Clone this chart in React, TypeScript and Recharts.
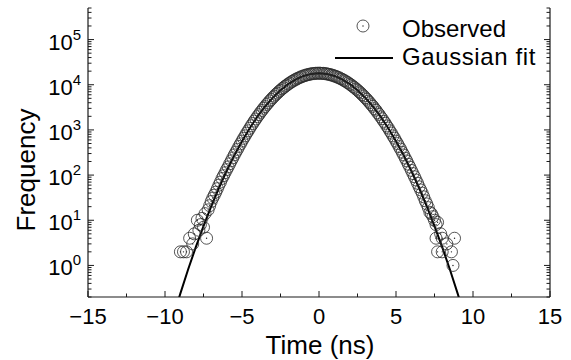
import React from 'react';
import { ComposedChart, Scatter, Line, XAxis, YAxis } from 'recharts';

// ---------- data ----------
const obsLeftTailTime = [-9.0, -8.8, -8.6, -8.4, -8.2, -8.1, -7.9, -7.8, -7.7, -7.6, -7.5, -7.4, -7.3, -7.2, -7.1, -7.0];
const obsLeftTailCount = [2, 2, 2, 4, 3, 5, 10, 6, 8, 11, 7, 14, 4, 17, 21, 26];

const obsCoreTime = [
  -6.9, -6.8, -6.7, -6.6, -6.5, -6.4, -6.3, -6.2, -6.1, -6.0,
  -5.9, -5.8, -5.7, -5.6, -5.5, -5.4, -5.3, -5.2, -5.1, -5.0,
  -4.9, -4.8, -4.7, -4.6, -4.5, -4.4, -4.3, -4.2, -4.1, -4.0,
  -3.9, -3.8, -3.7, -3.6, -3.5, -3.4, -3.3, -3.2, -3.1, -3.0,
  -2.9, -2.8, -2.7, -2.6, -2.5, -2.4, -2.3, -2.2, -2.1, -2.0,
  -1.9, -1.8, -1.7, -1.6, -1.5, -1.4, -1.3, -1.2, -1.1, -1.0,
  -0.9, -0.8, -0.7, -0.6, -0.5, -0.4, -0.3, -0.2, -0.1, 0.0,
  0.1, 0.2, 0.3, 0.4, 0.5, 0.6, 0.7, 0.8, 0.9, 1.0,
  1.1, 1.2, 1.3, 1.4, 1.5, 1.6, 1.7, 1.8, 1.9, 2.0,
  2.1, 2.2, 2.3, 2.4, 2.5, 2.6, 2.7, 2.8, 2.9, 3.0,
  3.1, 3.2, 3.3, 3.4, 3.5, 3.6, 3.7, 3.8, 3.9, 4.0,
  4.1, 4.2, 4.3, 4.4, 4.5, 4.6, 4.7, 4.8, 4.9, 5.0,
  5.1, 5.2, 5.3, 5.4, 5.5, 5.6, 5.7, 5.8, 5.9, 6.0,
  6.1, 6.2, 6.3, 6.4, 6.5, 6.6, 6.7, 6.8, 6.9,
];
const obsCoreCount = [
  31, 36, 42, 50, 60, 70, 84, 97, 113, 132,
  152, 178, 207, 240, 280, 322, 370, 430, 492, 566,
  650, 738, 846, 955, 1085, 1238, 1385, 1570, 1748, 1970,
  2180, 2450, 2690, 3010, 3280, 3650, 3960, 4390, 4730, 5200,
  5590, 6110, 6520, 7090, 7540, 8150, 8610, 9260, 9720, 10400,
  10870, 11550, 12010, 12700, 13120, 13790, 14170, 14820, 15150, 15740,
  16010, 16550, 16740, 17200, 17310, 17700, 17690, 18000, 17900, 18100,
  17950, 17830, 17870, 17520, 17480, 17030, 16910, 16380, 16170, 15590,
  15300, 14670, 14320, 13650, 13250, 12560, 12130, 11420, 10990, 10280,
  9830, 9150, 8700, 8060, 7620, 7010, 6600, 6030, 5650, 5140,
  4790, 4330, 4010, 3600, 3330, 2960, 2730, 2410, 2210, 1950,
  1770, 1550, 1405, 1225, 1100, 955, 852, 738, 655, 565,
  498, 428, 375, 320, 279, 237, 206, 174, 150, 127,
  108, 92, 78, 66, 55, 47, 40, 33, 27,
];

const obsRightTailTime = [7.0, 7.1, 7.2, 7.3, 7.4, 7.5, 7.6, 7.6, 7.7, 7.7, 7.9, 8.0, 8.0, 8.3, 8.6, 8.7, 8.8];
const obsRightTailCount = [23, 19, 15, 14, 12, 10, 8, 4, 9, 2, 5, 4, 2, 3, 2, 1, 4];

const fitTime = [
  -10, -9.5, -9, -8.5, -8, -7.5, -7, -6.5, -6, -5.5, -5, -4.5, -4, -3.5, -3, -2.5, -2, -1.5, -1, -0.5,
  0, 0.5, 1, 1.5, 2, 2.5, 3, 3.5, 4, 4.5, 5, 5.5, 6, 6.5, 7, 7.5, 8, 8.5, 9, 9.5, 10,
];
const fitCount = [
  0.0174, 0.067, 0.241, 0.812, 2.545, 7.44, 20.3, 51.8, 123, 272.9, 564, 1090, 1963, 3300, 5175, 7575, 10340, 13180, 15670, 17390,
  18000, 17390, 15670, 13180, 10340, 7575, 5175, 3300, 1963, 1090, 564, 272.9, 123, 51.8, 20.3, 7.44, 2.545, 0.812, 0.241, 0.067, 0.0174,
];

const xMajorTicks = [-15, -10, -5, 0, 5, 10, 15];
const xMinorTicks = [-12.5, -7.5, -2.5, 2.5, 7.5, 12.5];
const yMajorTicks = [1, 10, 100, 1000, 10000, 100000];
const yMinorMultipliers = [2, 3, 4, 5, 6, 7, 8, 9];
const yDomain: [number, number] = [0.2, 500000];
const xDomain: [number, number] = [-15, 15];

const seriesLabels = ['Observed', 'Gaussian fit'];
const xTitle = 'Time (ns)';
const yTitle = 'Frequency';

// ---------- derived tables ----------
const obsData = [
  ...obsLeftTailTime.map((x, i) => ({ x, y: obsLeftTailCount[i] })),
  ...obsCoreTime.map((x, i) => ({ x, y: obsCoreCount[i] })),
  ...obsRightTailTime.map((x, i) => ({ x, y: obsRightTailCount[i] })),
];
const fitData = fitTime.map((x, i) => ({ x, y: fitCount[i] }));

const xTicks = [...xMajorTicks, ...xMinorTicks].sort((a, b) => a - b);
const yMinorTicks: number[] = [];
[0.1, ...yMajorTicks].forEach((d) => {
  yMinorMultipliers.forEach((m) => {
    const v = +(d * m).toPrecision(6);
    if (v >= yDomain[0] && v <= yDomain[1]) yMinorTicks.push(v);
  });
});
const yTicks = [...yMajorTicks, ...yMinorTicks].sort((a, b) => a - b);

// ---------- styles ----------
const FONT = '"Liberation Sans", Arial, Helvetica, sans-serif';
const AX = '#1a1a1a';
const MAJOR = 6;
const MINOR = 3.5;

const isMajorY = (v: number) => Math.abs(Math.log10(v) - Math.round(Math.log10(v))) < 1e-6;
const fmtX = (v: number) => (v < 0 ? '\u2212' + Math.abs(v) : String(v));

const BottomTick = (p: any) => {
  const v = p.payload.value;
  const major = xMajorTicks.includes(v);
  return (
    <g>
      <line x1={p.x} x2={p.x} y1={p.y} y2={p.y - (major ? MAJOR : MINOR)} stroke={AX} strokeWidth={1} />
      {major && (
        <text x={p.x} y={p.y + 27} textAnchor="middle" fontSize={22} fontFamily={FONT} fill="#000">
          {fmtX(v)}
        </text>
      )}
    </g>
  );
};

const TopTick = (p: any) => {
  const v = p.payload.value;
  const major = xMajorTicks.includes(v);
  return <line x1={p.x} x2={p.x} y1={p.y} y2={p.y + (major ? MAJOR : MINOR)} stroke={AX} strokeWidth={1} />;
};

const LeftTick = (p: any) => {
  const v = p.payload.value;
  const major = isMajorY(v);
  return (
    <g>
      <line x1={p.x} x2={p.x + (major ? MAJOR : MINOR)} y1={p.y} y2={p.y} stroke={AX} strokeWidth={1} />
      {major && (
        <text x={p.x - 7} y={p.y + 10} textAnchor="end" fontFamily={FONT} fill="#000">
          <tspan fontSize={22}>10</tspan>
          <tspan fontSize={15} dy={-10}>
            {String(Math.round(Math.log10(v)))}
          </tspan>
        </text>
      )}
    </g>
  );
};

const RightTick = (p: any) => {
  const v = p.payload.value;
  const major = isMajorY(v);
  return <line x1={p.x} x2={p.x - (major ? MAJOR : MINOR)} y1={p.y} y2={p.y} stroke={AX} strokeWidth={1} />;
};

const RingDot = (p: any) => {
  if (p.cx == null || p.cy == null) return <g />;
  return (
    <g>
      <circle cx={p.cx} cy={p.cy} r={6} fill="none" stroke="#2a2a2a" strokeWidth={0.8} />
      <circle cx={p.cx} cy={p.cy} r={0.7} fill="#222" />
    </g>
  );
};

export default function App() {
  return (
    <div style={{ position: 'absolute', left: 0, top: 0, width: 571, height: 360, background: '#fff' }}>
      <ComposedChart width={571} height={360} margin={{ top: 8, right: 0, bottom: 0, left: 0 }}>
        <XAxis
          xAxisId="b"
          type="number"
          dataKey="x"
          domain={xDomain}
          allowDataOverflow
          ticks={xTicks}
          interval={0}
          tickSize={0}
          tickMargin={0}
          tickLine={false}
          height={63}
          axisLine={{ stroke: AX, strokeWidth: 1.2 }}
          tick={(p: any) => <BottomTick {...p} />}
        />
        <XAxis
          xAxisId="t"
          orientation="top"
          type="number"
          dataKey="x"
          domain={xDomain}
          allowDataOverflow
          ticks={xTicks}
          interval={0}
          tickSize={0}
          tickMargin={0}
          tickLine={false}
          height={0}
          axisLine={{ stroke: AX, strokeWidth: 1.2 }}
          tick={(p: any) => <TopTick {...p} />}
        />
        <YAxis
          yAxisId="l"
          type="number"
          dataKey="y"
          scale="log"
          domain={yDomain}
          allowDataOverflow
          ticks={yTicks}
          interval={0}
          tickSize={0}
          tickMargin={0}
          tickLine={false}
          width={88}
          axisLine={{ stroke: AX, strokeWidth: 1.2 }}
          tick={(p: any) => <LeftTick {...p} />}
        />
        <YAxis
          yAxisId="r"
          orientation="right"
          type="number"
          dataKey="y"
          scale="log"
          domain={yDomain}
          allowDataOverflow
          ticks={yTicks}
          interval={0}
          tickSize={0}
          tickMargin={0}
          tickLine={false}
          width={21}
          axisLine={{ stroke: AX, strokeWidth: 1.2 }}
          tick={(p: any) => <RightTick {...p} />}
        />
        <Scatter
          name={seriesLabels[0]}
          data={obsData}
          xAxisId="b"
          yAxisId="l"
          dataKey="y"
          shape={(p: any) => <RingDot {...p} />}
          isAnimationActive={false}
        />
        <Line
          name={seriesLabels[1]}
          data={fitData}
          xAxisId="t"
          yAxisId="r"
          dataKey="y"
          type="linear"
          stroke="#000"
          strokeWidth={2}
          dot={false}
          activeDot={false}
          isAnimationActive={false}
        />
      </ComposedChart>
      <svg
        width={571}
        height={360}
        style={{ position: 'absolute', left: 0, top: 0, pointerEvents: 'none' }}
      >
        <circle cx={363} cy={26} r={6} fill="none" stroke="#2a2a2a" strokeWidth={0.8} />
        <circle cx={363} cy={26} r={0.7} fill="#222" />
        <text x={402} y={37} fontSize={24} fontFamily={FONT} fill="#000">
          {seriesLabels[0]}
        </text>
        <line x1={335} x2={393} y1={58} y2={58} stroke="#000" strokeWidth={2} />
        <text x={402} y={65} fontSize={24} fontFamily={FONT} fill="#000" letterSpacing={0.6}>
          {seriesLabels[1]}
        </text>
        <text x={320} y={354} fontSize={26} fontFamily={FONT} fill="#000" textAnchor="middle">
          {xTitle}
        </text>
        <text
          x={0}
          y={0}
          transform="translate(35,170) rotate(-90)"
          fontSize={26}
          fontFamily={FONT}
          fill="#000"
          textAnchor="middle"
        >
          {yTitle}
        </text>
      </svg>
    </div>
  );
}
